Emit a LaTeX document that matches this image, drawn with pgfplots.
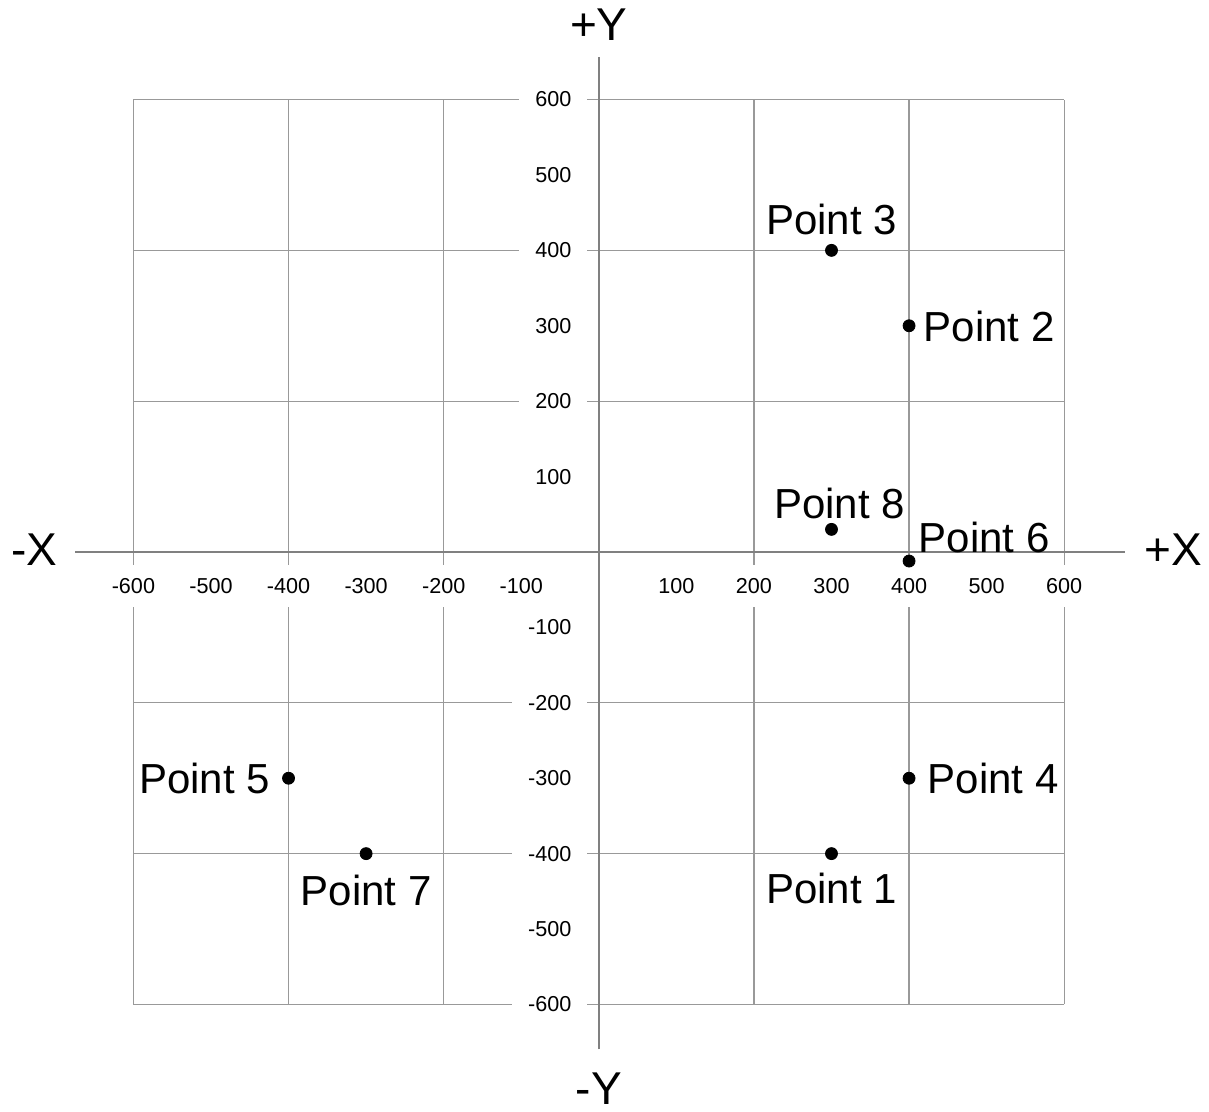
\documentclass[border=0pt]{standalone}
\usepackage{fontspec}
\setmainfont{Liberation Sans}
\usepackage{pgfplots}
\usepackage{pgfplotstable}
\pgfplotsset{compat=1.18}

% x y n dx dy (label offset in pt)
\pgfplotstableread{
x    y    n  dx    dy
300  -400 1  0     -17.5
400  300  2  40    -0.5
300  400  3  0     15.5
400  -300 4  42    0
-400 -300 5  -42   0
400  -12  6  37.5  12
-300 -400 7  0     -18.5
300  30   8  4     13
}\points

\begin{document}
\begin{tikzpicture}
\begin{axis}[
  x=0.3879pt, y=0.3771pt,
  xmin=-600, xmax=600, ymin=-600, ymax=600,
  axis lines=middle,
  clip=false,
  axis line style={-, draw=black!50, line width=0.7pt},
  x axis line style={shorten <=-29pt, shorten >=-30.5pt},
  y axis line style={shorten <=-22.5pt, shorten >=-21.5pt},
  xtick={-600,-400,-200,200,400,600},
  ytick={-600,-400,-200,200,400,600},
  extra x ticks={-500,-300,-100,100,300,500},
  extra y ticks={-500,-300,-100,100,300,500},
  extra tick style={grid=none},
  grid=major,
  grid style={draw=black!40, line width=0.6pt},
  major tick length=0pt,
  /pgf/number format/assume math mode=true,
  tick label style={font=\fontsize{10.8}{12}\selectfont, fill=white},
  xticklabel style={anchor=north, inner xsep=2pt, inner ysep=6.5pt, yshift=-6.5pt},
  yticklabel style={anchor=east, inner xsep=8pt, inner ysep=3pt, xshift=-5.5pt},
]
\path (axis cs:-772,732) rectangle (axis cs:786,-742);
\addplot[only marks, mark=*, mark size=3pt, black,
  point meta=explicit,
  visualization depends on={\thisrow{dx}\as\labdx},
  visualization depends on={\thisrow{dy}\as\labdy},
  nodes near coords={Point \pgfmathprintnumber{\pgfplotspointmeta}},
  every node near coord/.append style={anchor=center, xshift=\labdx pt, yshift=\labdy pt,
    font=\fontsize{21}{25}\selectfont, text=black},
] table[x=x, y=y, meta=n] {\points};
\node[font=\fontsize{23}{27}\selectfont] at (axis cs:-728,3) {-X};
\node[font=\fontsize{23}{27}\selectfont] at (axis cs:741,3) {+X};
\node[font=\fontsize{23}{27}\selectfont] at (axis cs:0,699) {+Y};
\node[font=\fontsize{23}{27}\selectfont] at (axis cs:0,-712) {-Y};
\end{axis}
\end{tikzpicture}
\end{document}
